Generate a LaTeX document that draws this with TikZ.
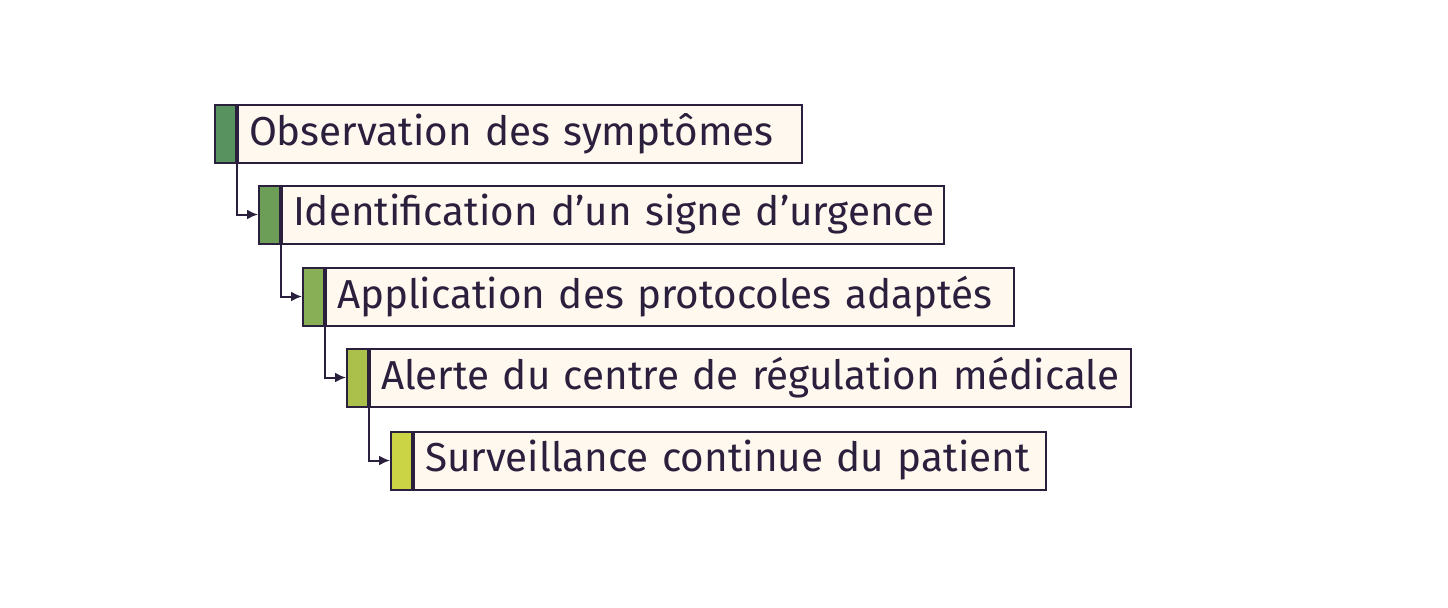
\documentclass[tikz,border=0pt]{standalone}
\usepackage{fontspec}
\setmainfont{Fira Sans}
\usetikzlibrary{arrows.meta}
\definecolor{ink}{HTML}{2A1F3D}
\definecolor{paper}{HTML}{FFF8EE}
\definecolor{stepA}{HTML}{58925F}
\definecolor{stepB}{HTML}{6C9E58}
\definecolor{stepC}{HTML}{88AF55}
\definecolor{stepD}{HTML}{ABC04B}
\definecolor{stepE}{HTML}{CBD444}

\begin{document}
\begin{tikzpicture}[x=0.5pt,y=-0.5pt]
\tikzstyle{every node}+=[inner sep=0pt]
\tikzstyle{bar}=[draw=ink,line width=1pt,minimum width=10.5pt,minimum height=29pt,anchor=west]
\tikzstyle{label}=[draw=ink,line width=1pt,fill=paper,minimum height=29pt,anchor=west,text=ink,
  font=\fontsize{20.2}{23}\selectfont,inner xsep=5.5pt,align=left,
  execute at begin node=\hbox\bgroup,execute at end node=\egroup]
\tikzstyle{link}=[draw=ink,line width=1pt,-{Latex[length=5.5pt,width=5pt]}]
\useasboundingbox (0,0) rectangle (1448,607);
% steps
\node [bar,fill=stepA] (bar1) at (214,133.5) {};
\node [label,text width=271pt] (box1) at (bar1.east) {Observation des symptômes};
\node [bar,fill=stepB] (bar2) at (258,214.5) {};
\node [label,text width=320pt] (box2) at (bar2.east) {Identification d’un signe d’urgence};
\node [bar,fill=stepC] (bar3) at (302,296.5) {};
\node [label,text width=333pt] (box3) at (bar3.east) {Application des protocoles adaptés};
\node [bar,fill=stepD] (bar4) at (346,377.5) {};
\node [label,text width=369.5pt] (box4) at (bar4.east) {Alerte du centre de régulation médicale};
\node [bar,fill=stepE] (bar5) at (390,460.5) {};
\node [label,text width=305pt] (box5) at (bar5.east) {Surveillance continue du patient};
% links
\draw [link] (bar1.south east) |- (bar2.west);
\draw [link] (bar2.south east) |- (bar3.west);
\draw [link] (bar3.south east) |- (bar4.west);
\draw [link] (bar4.south east) |- (bar5.west);
\end{tikzpicture}
\end{document}
